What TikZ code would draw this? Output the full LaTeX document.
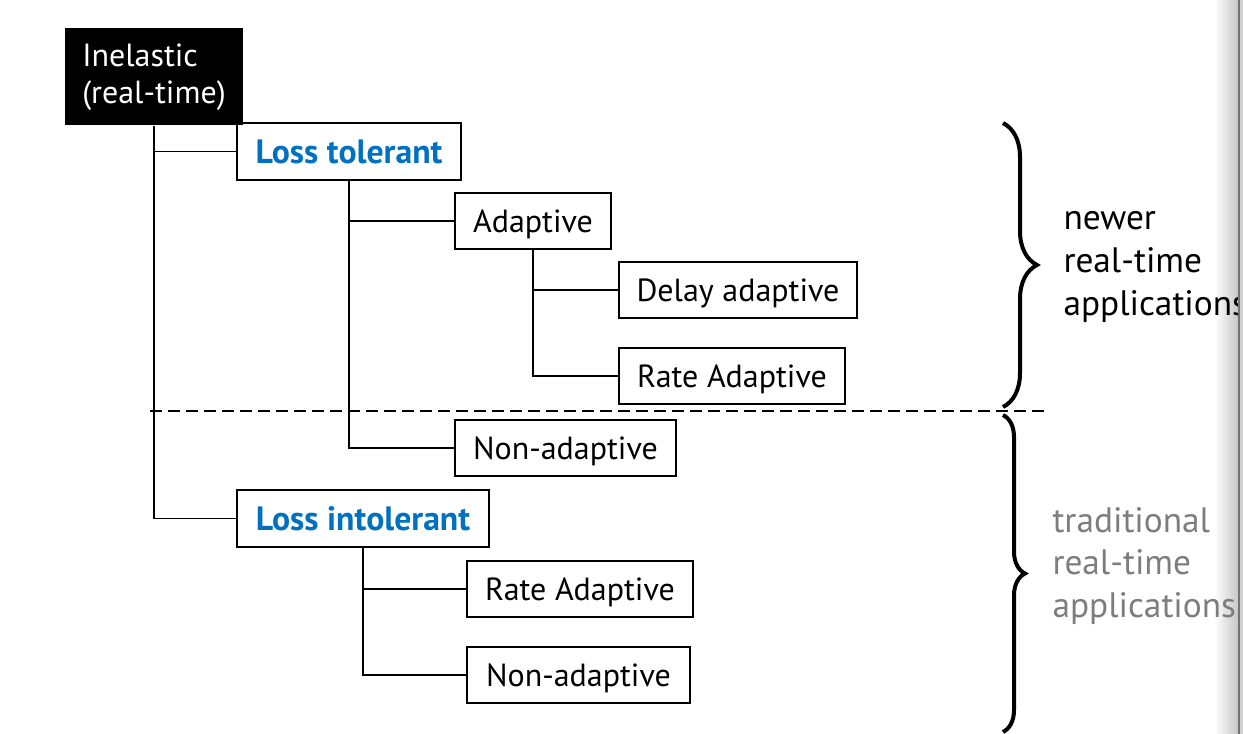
\documentclass[tikz,border=0pt]{standalone}
\usepackage{fontspec}
\setmainfont{PT Sans}
\usetikzlibrary{decorations.pathreplacing}

\definecolor{lossblue}{RGB}{0,112,192}
\definecolor{tradgray}{RGB}{125,125,125}

\tikzset{every picture/.style={line width=0.75pt}}
\tikzset{
  catbox/.style={draw, line width=1.5pt, minimum height=42pt, inner sep=0pt,
    text height=17.5pt, text depth=0pt, font=\fontsize{24}{28}\selectfont},
  lossbox/.style={catbox, text=lossblue, font=\fontsize{25.3}{28}\selectfont\bfseries},
  branch/.style={line width=1.1pt},
  appbrace/.style={line width=3pt, decorate},
  apptext/.style={anchor=west, align=left, inner sep=0pt,
    font=\fontsize{26.5}{32}\selectfont},
}

\begin{document}
\begin{tikzpicture}[x=0.75pt,y=0.75pt,yscale=-1,xscale=1]
\useasboundingbox (0,0) rectangle (1243,734);

% window edge
\shade [left color=white, right color=black!22] (1214,0) rectangle (1238,734);

% root
\node (inel) [fill=black, text=white, align=left, inner sep=0pt, minimum width=133.5pt,
  minimum height=72.75pt, font=\fontsize{24}{28}\selectfont] at (154,77) {Inelastic\\(real-time)};

% loss tolerant branch
\node (tol) [lossbox, minimum width=168pt, minimum height=42.75pt] at (349,151.5) {Loss tolerant};
\node (adap) [catbox, minimum width=117pt] at (533,221) {Adaptive};
\node (delay) [catbox, minimum width=178.5pt] at (738,290) {Delay adaptive};
\node (rateA) [catbox, minimum width=169.5pt] at (732,376) {Rate Adaptive};
\node (nonA) [catbox, minimum width=165.75pt] at (565.5,448) {Non-adaptive};

% loss intolerant branch
\node (intol) [lossbox, minimum width=189pt, minimum height=42.75pt] at (363,518.5) {Loss intolerant};
\node (rateB) [catbox, minimum width=169.5pt] at (580,589) {Rate Adaptive};
\node (nonB) [catbox, minimum width=167.25pt] at (578.5,675) {Non-adaptive};

% tree lines
\draw [branch] (inel.south) |- (tol.west);
\draw [branch] (inel.south) |- (intol.west);
\draw [branch] (tol.south) |- (adap.west);
\draw [branch] (tol.south) |- (nonA.west);
\draw [branch] (adap.south) |- (delay.west);
\draw [branch] (adap.south) |- (rateA.west);
\draw [branch] (intol.south) |- (rateB.west);
\draw [branch] (intol.south) |- (nonB.west);

% split
\coordinate (splitL) at (150,411);
\coordinate (splitR) at (1045,411);
\draw [line width=1.1pt, dash pattern=on 9pt off 4.5pt] (splitL) -- (splitR);

% braces
\draw [appbrace, decoration={brace, amplitude=25.5pt}] (1003,123) -- (1003,407);
\draw [appbrace, decoration={brace, amplitude=16.5pt}] (1003,415) -- (1003,732);

\node (newer) [apptext] at (1063,267) {newer\\real-time\\applications};
\node (trad) [apptext, text=tradgray] at (1052,566) {traditional\\real-time\\applications};

\fill [black!55] (1238,0) rectangle (1240,734);
\fill [black!18] (1240,0) rectangle (1243,734);

\end{tikzpicture}
\end{document}
